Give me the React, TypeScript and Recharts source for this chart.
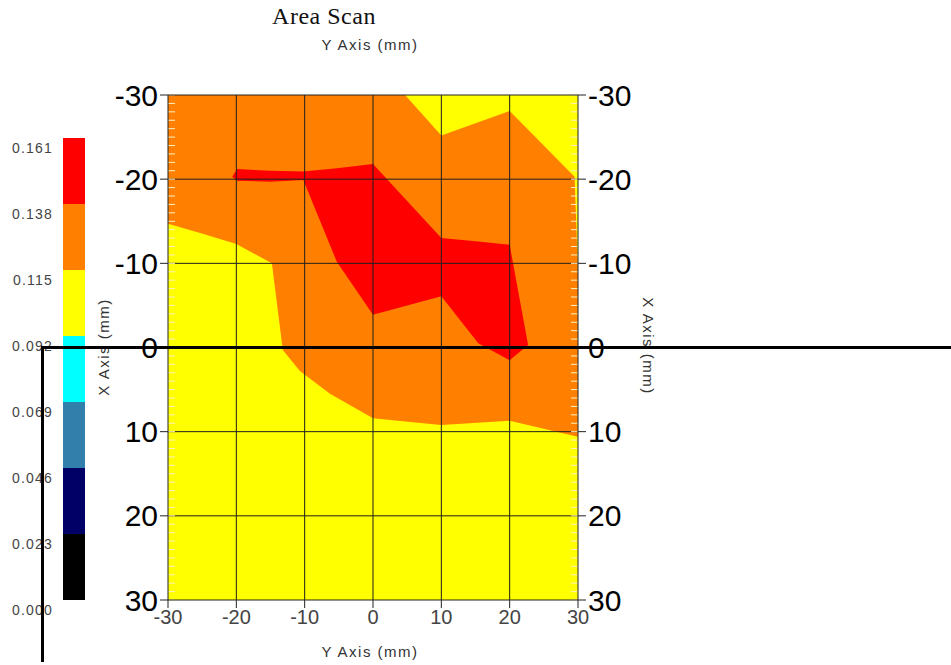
import React from "react";
import { ComposedChart, Area, XAxis, YAxis, CartesianGrid, ReferenceLine, BarChart, Bar } from "recharts";

const FONT = "'Liberation Sans', Arial, sans-serif";

const MAJOR_TICKS = [-30, -20, -10, 0, 10, 20, 30];
const GRID_TICKS = [-20, -10, 0, 10, 20];
const MINOR_TICKS = Array.from({ length: 61 }, (_, i) => i - 30);

// level 0.138 - 0.161 band (orange)
const ORANGE_X = [-30, -25.3, -20, -14.8, -13.2, -10.7, -6.3, 0, 4.7, 10, 20, 29.5, 30];
const ORANGE_TOP = [-30, -30, -30, -30, -30, -30, -30, -30, -30, -25.2, -28.1, -20.3, -9];
const ORANGE_BOTTOM = [-14.7, -13.6, -12.3, -10.0, 0.3, 2.8, 5.5, 8.4, 8.8, 9.2, 8.7, 10.5, 10.6];

// level above 0.161 (red)
const RED_X = [-20.6, -19.9, -15, -10.2, -5.3, 0, 10, 15.4, 20, 22.7];
const RED_TOP = [-20.3, -21.2, -21.0, -20.9, -21.3, -21.8, -13.0, -12.6, -12.2, -0.3];
const RED_BOTTOM = [-20.3, -19.8, -19.7, -19.9, -10.2, -3.9, -6.1, -0.5, 1.5, -0.3];

const LEVELS = [0, 0.023, 0.046, 0.069, 0.092, 0.115, 0.138, 0.161];
const LEVEL_COLORS = ["#000000", "#000066", "#337fab", "#00ffff", "#ffff00", "#ff8000", "#ff0000"];

const orangeData = ORANGE_X.map((x, i) => ({ x, range: [ORANGE_TOP[i], ORANGE_BOTTOM[i]] }));
const redData = RED_X.map((x, i) => ({ x, range: [RED_TOP[i], RED_BOTTOM[i]] }));

const colorRow: Record<string, number | string> = { name: "scale" };
LEVEL_COLORS.forEach((_, i) => {
  colorRow["s" + i] = LEVELS[i + 1] - LEVELS[i];
});

const MINOR_COLOR = "#fff2c0";

const axisTitle: React.CSSProperties = {
  position: "absolute",
  fontFamily: FONT,
  fontSize: 15,
  letterSpacing: 1.5,
  color: "#333",
  whiteSpace: "nowrap",
  lineHeight: "15px",
};

function ScaleTick(props: any) {
  const { x, y, payload } = props;
  return (
    <text x={x} y={y + 10} textAnchor="end" dominantBaseline="central" fontSize={14} fill="#444" fontFamily={FONT} letterSpacing={1.2}>
      {Number(payload.value).toFixed(3)}
    </text>
  );
}

export default function App() {
  return (
    <div style={{ position: "absolute", left: 0, top: 0, width: 951, height: 665, overflow: "hidden", background: "#fff" }}>
      <ComposedChart width={951} height={665} margin={{ top: 65, right: 313, bottom: 35, left: 108 }}>
        <CartesianGrid xAxisId="bottom" yAxisId="left" fill="#ffff00" stroke="none" horizontal={false} vertical={false} />

        <XAxis xAxisId="minorTop" orientation="top" mirror type="number" domain={[-30, 30]} allowDataOverflow ticks={MINOR_TICKS} interval={0} tickSize={7} tickFormatter={() => ""} axisLine={false} tickLine={{ stroke: MINOR_COLOR }} />
        <XAxis xAxisId="minorBottom" orientation="bottom" mirror type="number" domain={[-30, 30]} allowDataOverflow ticks={MINOR_TICKS} interval={0} tickSize={7} tickFormatter={() => ""} axisLine={false} tickLine={{ stroke: MINOR_COLOR }} />
        <YAxis yAxisId="minorLeft" orientation="left" mirror type="number" domain={[-30, 30]} allowDataOverflow ticks={MINOR_TICKS} interval={0} tickSize={7} tickFormatter={() => ""} axisLine={false} tickLine={{ stroke: MINOR_COLOR }} />
        <YAxis yAxisId="minorRight" orientation="right" mirror type="number" domain={[-30, 30]} allowDataOverflow ticks={MINOR_TICKS} interval={0} tickSize={7} tickFormatter={() => ""} axisLine={false} tickLine={{ stroke: MINOR_COLOR }} />

        <XAxis xAxisId="bottom" orientation="bottom" type="number" dataKey="x" domain={[-30, 30]} allowDataOverflow ticks={MAJOR_TICKS} interval={0} height={30} tickSize={8} stroke="#222" tick={{ fontSize: 20, fill: "#444", fontFamily: FONT }} />
        <XAxis xAxisId="top" orientation="top" type="number" domain={[-30, 30]} allowDataOverflow ticks={MAJOR_TICKS} interval={0} height={30} tickSize={8} stroke="#222" tick={{ fontSize: 20, fill: "#444", fontFamily: FONT }} />
        <YAxis yAxisId="left" orientation="left" type="number" reversed domain={[-30, 30]} allowDataOverflow ticks={MAJOR_TICKS} interval={0} width={60} tickSize={8} stroke="#222" tick={{ fontSize: 30, fill: "#000", fontFamily: FONT }} />
        <YAxis yAxisId="right" orientation="right" type="number" reversed domain={[-30, 30]} allowDataOverflow ticks={MAJOR_TICKS} interval={0} width={60} tickSize={8} stroke="#222" tick={{ fontSize: 30, fill: "#000", fontFamily: FONT }} />

        <Area xAxisId="bottom" yAxisId="left" data={orangeData} dataKey="range" type="linear" fill="#ff8000" fillOpacity={1} stroke="none" dot={false} activeDot={false} isAnimationActive={false} />
        <Area xAxisId="bottom" yAxisId="left" data={redData} dataKey="range" type="linear" fill="#ff0000" fillOpacity={1} stroke="none" dot={false} activeDot={false} isAnimationActive={false} />

        {GRID_TICKS.map((v) => (
          <ReferenceLine key={"gx" + v} xAxisId="bottom" yAxisId="left" x={v} stroke="#1e1e1e" strokeWidth={1} />
        ))}
        {GRID_TICKS.map((v) => (
          <ReferenceLine key={"gy" + v} xAxisId="bottom" yAxisId="left" y={v} stroke="#1e1e1e" strokeWidth={1} />
        ))}
      </ComposedChart>

      <BarChart width={100} height={665} data={[colorRow]} margin={{ top: 138, right: 15, bottom: 65, left: 3 }} barCategoryGap={0} style={{ position: "absolute", left: 0, top: 0 }}>
        <XAxis dataKey="name" hide />
        <YAxis type="number" domain={[0, 0.161]} allowDataOverflow ticks={LEVELS} interval={0} width={60} axisLine={false} tickLine={false} tickSize={0} tickMargin={10} tick={<ScaleTick />} />
        {LEVEL_COLORS.map((c, i) => (
          <Bar key={c} dataKey={"s" + i} stackId="scale" fill={c} isAnimationActive={false} />
        ))}
      </BarChart>

      <div style={{ position: "absolute", left: 324, top: 3, transform: "translateX(-50%)", fontFamily: "'Liberation Serif', 'Times New Roman', serif", fontSize: 24, letterSpacing: 0.5, color: "#111", whiteSpace: "nowrap" }}>
        Area Scan
      </div>
      <div style={{ ...axisTitle, left: 370, top: 37, transform: "translateX(-50%)" }}>Y Axis (mm)</div>
      <div style={{ ...axisTitle, left: 370, top: 644, transform: "translateX(-50%)" }}>Y Axis (mm)</div>
      <div style={{ ...axisTitle, left: 103, top: 347, transform: "translate(-50%, -50%) rotate(-90deg)" }}>X Axis (mm)</div>
      <div style={{ ...axisTitle, left: 648, top: 346, transform: "translate(-50%, -50%) rotate(90deg)" }}>X Axis (mm)</div>

      <div style={{ position: "absolute", left: 42, top: 346, width: 909, height: 3, background: "#000" }} />
      <div style={{ position: "absolute", left: 41, top: 346, width: 3, height: 316, background: "#000" }} />
    </div>
  );
}
